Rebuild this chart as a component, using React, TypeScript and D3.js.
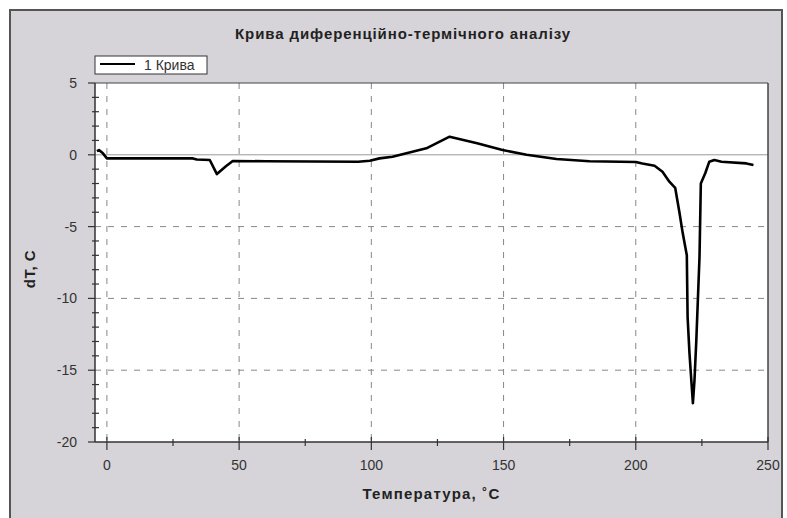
import React from "react";
import * as d3 from "d3";

const title = "Крива диференційно-термічного аналізу";
const xTitle = "Температура, ˚C";
const yTitle = "dT, C";
const legendLabel = "1 Крива";

const xTicks = [0, 50, 100, 150, 200, 250];
const xMinorTicks = [25, 75, 125, 175, 225];
const yTicks = [5, 0, -5, -10, -15, -20];

const temperature = [
  -3.8, -3.0, -1.5, 0, 32.5, 34, 38.9, 41.6, 45, 47.6, 60, 95, 99.4, 103.1, 108,
  120.8, 129.6, 140, 149.6, 158.7, 170, 182.5, 200, 202.5, 207.1, 210.1, 212.7,
  214.9, 216.5, 217.7, 219.3, 219.6, 220.3, 221.0, 221.6, 222.2, 222.9, 224.1,
  224.6, 226.3, 227.8, 229.7, 232.4, 241.8, 244.5,
];
const dT = [
  0.26, 0.33, 0.1, -0.25, -0.25, -0.33, -0.36, -1.34, -0.8, -0.43, -0.45, -0.48,
  -0.41, -0.25, -0.13, 0.45, 1.26, 0.8, 0.33, 0.0, -0.29, -0.45, -0.5, -0.6,
  -0.76, -1.18, -1.87, -2.3, -4.0, -5.4, -7.0, -11.3, -13.8, -15.7, -17.3,
  -15.7, -12.9, -7.1, -2.0, -1.27, -0.48, -0.36, -0.48, -0.6, -0.71,
];

const W = 787;
const H = 518;
const L = 95, R = 768, T = 83, B = 442;

export default function App() {
  const x = d3.scaleLinear().domain([-4.5, 250]).range([L, R]);
  const y = d3.scaleLinear().domain([-20, 5]).range([B, T]);
  const pts: [number, number][] = temperature.map((t, i) => [t, dT[i]]);
  const line = d3
    .line<[number, number]>()
    .x((d) => x(d[0]))
    .y((d) => y(d[1]));

  const yMinor: number[] = [];
  for (let v = -20; v <= 5; v += 1) if (v % 5 !== 0) yMinor.push(v);

  const font = "'Liberation Sans', Arial, sans-serif";
  const textCol = "#333";

  return (
    <svg
      width={W}
      height={H}
      style={{ position: "absolute", left: 0, top: 0, display: "block" }}
      fontFamily={font}
    >
      <rect x={0} y={0} width={W} height={H} fill="#ffffff" />
      <rect x={10} y={10} width={772} height={H} fill="#d6d4d8" stroke="#555" strokeWidth={2} />
      <text
        x={403}
        y={39}
        textAnchor="middle"
        fontSize={15}
        fontWeight="bold"
        letterSpacing={0.9}
        fill="#222"
      >
        {title}
      </text>

      {/* legend */}
      <rect x={95} y={56} width={112} height={18} fill="#fff" stroke="#333" strokeWidth={1} />
      <line x1={100} x2={135} y1={64} y2={64} stroke="#000" strokeWidth={2} />
      <text x={144} y={70} fontSize={14} fill={textCol}>
        {legendLabel}
      </text>

      {/* plot area */}
      <rect x={L} y={T} width={R - L} height={B - T} fill="#fff" />

      {/* grid */}
      {[0, 50, 100, 150, 200].map((v) => (
        <line
          key={"gx" + v}
          x1={x(v)}
          x2={x(v)}
          y1={T}
          y2={B}
          stroke="#888"
          strokeWidth={1}
          strokeDasharray="6,7"
        />
      ))}
      {[-5, -10, -15].map((v) => (
        <line
          key={"gy" + v}
          x1={L}
          x2={R}
          y1={y(v)}
          y2={y(v)}
          stroke="#888"
          strokeWidth={1}
          strokeDasharray="6,7"
        />
      ))}
      <line x1={L} x2={R} y1={y(0)} y2={y(0)} stroke="#999" strokeWidth={1} />

      {/* curve */}
      <path d={line(pts) || ""} fill="none" stroke="#000" strokeWidth={2.6} strokeLinejoin="round" />

      {/* frame */}
      <line x1={L} x2={R} y1={T} y2={T} stroke="#444" strokeWidth={1.2} />
      <line x1={R} x2={R} y1={T} y2={B} stroke="#444" strokeWidth={1.5} />
      <line x1={L} x2={L} y1={T} y2={B} stroke="#333" strokeWidth={1.5} />
      <line x1={L} x2={R} y1={B} y2={B} stroke="#333" strokeWidth={1.5} />

      {/* y ticks */}
      {yTicks.map((v) => (
        <g key={"yt" + v}>
          <line x1={88} x2={L} y1={y(v)} y2={y(v)} stroke="#333" strokeWidth={1.2} />
          <text
            x={77}
            y={y(v) + 5}
            textAnchor="end"
            fontSize={14}
            fill={textCol}
          >
            {v}
          </text>
        </g>
      ))}
      {yMinor.map((v) => (
        <line key={"ym" + v} x1={92} x2={99} y1={y(v)} y2={y(v)} stroke="#333" strokeWidth={1.2} />
      ))}

      {/* x ticks */}
      {xTicks.map((v) => (
        <g key={"xt" + v}>
          <line x1={x(v)} x2={x(v)} y1={437} y2={450} stroke="#333" strokeWidth={1.2} />
          <text x={x(v)} y={470} textAnchor="middle" fontSize={14} fill={textCol}>
            {v}
          </text>
        </g>
      ))}
      {xMinorTicks.map((v) => (
        <line key={"xm" + v} x1={x(v)} x2={x(v)} y1={439} y2={446} stroke="#333" strokeWidth={1.2} />
      ))}

      <text
        x={(L + R) / 2}
        y={499}
        textAnchor="middle"
        fontSize={15}
        fontWeight="bold"
        letterSpacing={1.2}
        fill="#222"
      >
        {xTitle}
      </text>
      <text
        transform={`translate(35, ${269}) rotate(-90)`}
        textAnchor="middle"
        fontSize={15}
        fontWeight="bold"
        letterSpacing={0.5}
        fill="#222"
      >
        {yTitle}
      </text>
    </svg>
  );
}
